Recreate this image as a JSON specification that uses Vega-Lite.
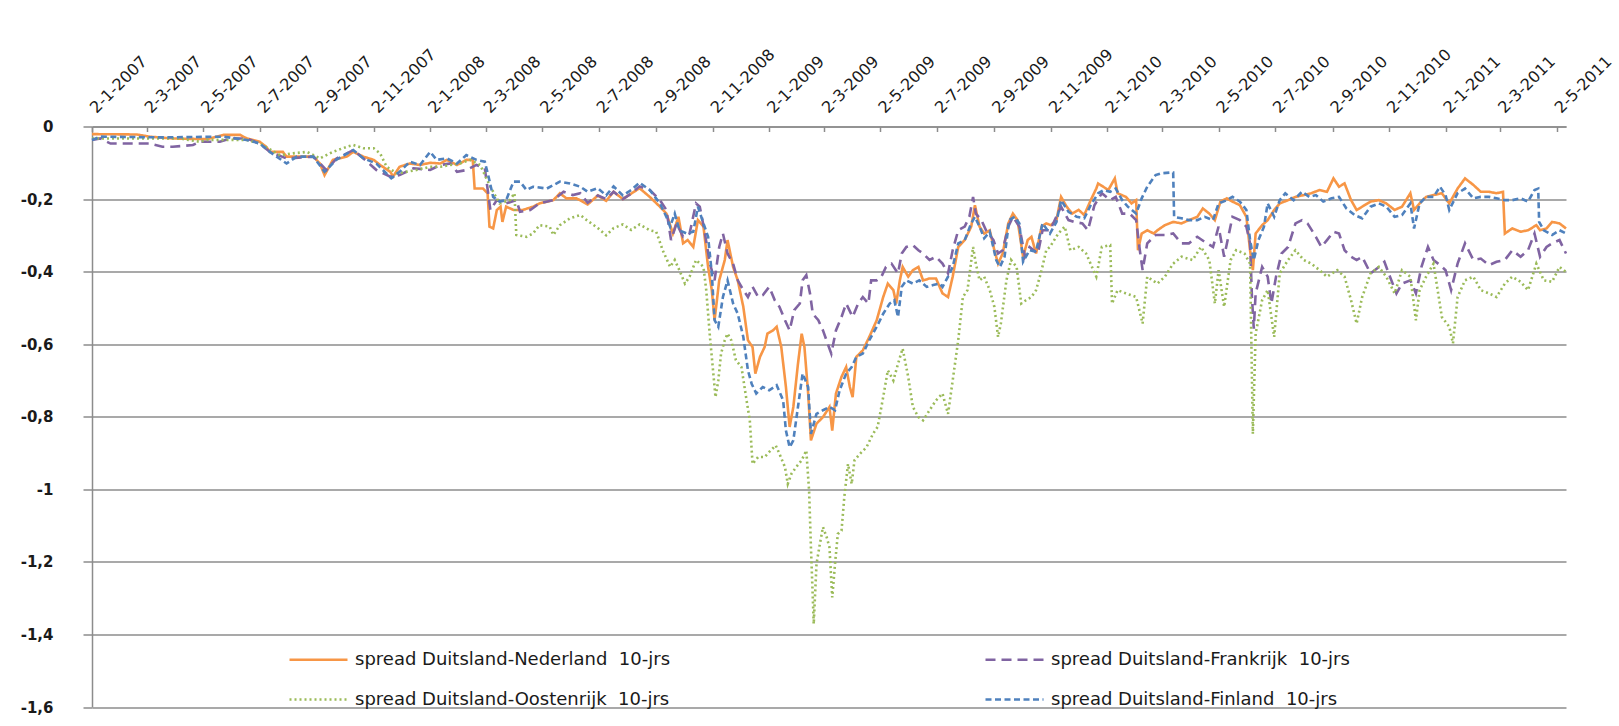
{
  "$schema": "https://vega.github.io/schema/vega-lite/v6.json",
  "width": 1474,
  "height": 580.5,
  "autosize": "none",
  "padding": {"left": 92, "top": 126.5, "right": 53, "bottom": 19},
  "background": "white",
  "config": {
    "view": {"stroke": null},
    "locale": {"number": {"decimal": ",", "thousands": ".", "grouping": [3], "currency": ["€", ""], "minus": "-"}}
  },
  "data": {"values": [
    {"s":"NL","d":"2007-01-02","v":-0.021},{"s":"NL","d":"2007-02-19","v":-0.022},{"s":"NL","d":"2007-03-05","v":-0.028},{"s":"NL","d":"2007-03-30","v":-0.033},{"s":"NL","d":"2007-05-06","v":-0.035},{"s":"NL","d":"2007-05-24","v":-0.023},{"s":"NL","d":"2007-06-11","v":-0.023},{"s":"NL","d":"2007-06-18","v":-0.033},{"s":"NL","d":"2007-07-02","v":-0.042},{"s":"NL","d":"2007-07-09","v":-0.056},{"s":"NL","d":"2007-07-13","v":-0.07},{"s":"NL","d":"2007-07-27","v":-0.07},{"s":"NL","d":"2007-07-31","v":-0.083},{"s":"NL","d":"2007-08-11","v":-0.083},{"s":"NL","d":"2007-08-29","v":-0.083},{"s":"NL","d":"2007-09-05","v":-0.102},{"s":"NL","d":"2007-09-10","v":-0.134},{"s":"NL","d":"2007-09-19","v":-0.092},{"s":"NL","d":"2007-10-04","v":-0.083},{"s":"NL","d":"2007-10-11","v":-0.07},{"s":"NL","d":"2007-10-22","v":-0.083},{"s":"NL","d":"2007-11-02","v":-0.092},{"s":"NL","d":"2007-11-09","v":-0.106},{"s":"NL","d":"2007-11-20","v":-0.125},{"s":"NL","d":"2007-11-23","v":-0.138},{"s":"NL","d":"2007-11-30","v":-0.111},{"s":"NL","d":"2007-12-11","v":-0.102},{"s":"NL","d":"2007-12-22","v":-0.106},{"s":"NL","d":"2008-01-02","v":-0.1},{"s":"NL","d":"2008-01-13","v":-0.102},{"s":"NL","d":"2008-01-20","v":-0.092},{"s":"NL","d":"2008-01-31","v":-0.106},{"s":"NL","d":"2008-02-10","v":-0.092},{"s":"NL","d":"2008-02-17","v":-0.092},{"s":"NL","d":"2008-02-19","v":-0.171},{"s":"NL","d":"2008-02-28","v":-0.171},{"s":"NL","d":"2008-03-04","v":-0.184},{"s":"NL","d":"2008-03-06","v":-0.276},{"s":"NL","d":"2008-03-10","v":-0.281},{"s":"NL","d":"2008-03-14","v":-0.23},{"s":"NL","d":"2008-03-18","v":-0.221},{"s":"NL","d":"2008-03-20","v":-0.263},{"s":"NL","d":"2008-03-24","v":-0.221},{"s":"NL","d":"2008-04-01","v":-0.23},{"s":"NL","d":"2008-04-11","v":-0.23},{"s":"NL","d":"2008-04-22","v":-0.221},{"s":"NL","d":"2008-04-29","v":-0.212},{"s":"NL","d":"2008-05-14","v":-0.203},{"s":"NL","d":"2008-05-21","v":-0.184},{"s":"NL","d":"2008-05-28","v":-0.198},{"s":"NL","d":"2008-06-08","v":-0.198},{"s":"NL","d":"2008-06-20","v":-0.215},{"s":"NL","d":"2008-07-01","v":-0.19},{"s":"NL","d":"2008-07-10","v":-0.205},{"s":"NL","d":"2008-07-18","v":-0.18},{"s":"NL","d":"2008-07-28","v":-0.2},{"s":"NL","d":"2008-08-06","v":-0.185},{"s":"NL","d":"2008-08-15","v":-0.17},
    {"s":"NL","d":"2008-08-26","v":-0.194},{"s":"NL","d":"2008-09-06","v":-0.221},{"s":"NL","d":"2008-09-13","v":-0.24},{"s":"NL","d":"2008-09-20","v":-0.295},{"s":"NL","d":"2008-09-26","v":-0.249},{"s":"NL","d":"2008-10-01","v":-0.322},{"s":"NL","d":"2008-10-06","v":-0.313},{"s":"NL","d":"2008-10-12","v":-0.332},{"s":"NL","d":"2008-10-17","v":-0.258},{"s":"NL","d":"2008-10-23","v":-0.276},{"s":"NL","d":"2008-10-28","v":-0.387},{"s":"NL","d":"2008-11-01","v":-0.451},{"s":"NL","d":"2008-11-04","v":-0.534},{"s":"NL","d":"2008-11-09","v":-0.424},{"s":"NL","d":"2008-11-15","v":-0.368},{"s":"NL","d":"2008-11-18","v":-0.313},{"s":"NL","d":"2008-11-24","v":-0.387},{"s":"NL","d":"2008-11-29","v":-0.424},{"s":"NL","d":"2008-12-05","v":-0.497},{"s":"NL","d":"2008-12-10","v":-0.589},{"s":"NL","d":"2008-12-15","v":-0.608},{"s":"NL","d":"2008-12-18","v":-0.681},{"s":"NL","d":"2008-12-23","v":-0.635},{"s":"NL","d":"2008-12-28","v":-0.608},{"s":"NL","d":"2008-12-31","v":-0.571},{"s":"NL","d":"2009-01-06","v":-0.562},{"s":"NL","d":"2009-01-10","v":-0.552},{"s":"NL","d":"2009-01-15","v":-0.608},{"s":"NL","d":"2009-01-20","v":-0.718},{"s":"NL","d":"2009-01-24","v":-0.828},{"s":"NL","d":"2009-01-28","v":-0.773},{"s":"NL","d":"2009-02-02","v":-0.654},{"s":"NL","d":"2009-02-06","v":-0.571},{"s":"NL","d":"2009-02-09","v":-0.608},{"s":"NL","d":"2009-02-13","v":-0.736},{"s":"NL","d":"2009-02-16","v":-0.865},{"s":"NL","d":"2009-02-22","v":-0.819},{"s":"NL","d":"2009-03-01","v":-0.801},{"s":"NL","d":"2009-03-08","v":-0.773},{"s":"NL","d":"2009-03-11","v":-0.838},{"s":"NL","d":"2009-03-15","v":-0.736},{"s":"NL","d":"2009-03-21","v":-0.69},{"s":"NL","d":"2009-03-26","v":-0.663},{"s":"NL","d":"2009-03-30","v":-0.718},{"s":"NL","d":"2009-04-02","v":-0.746},{"s":"NL","d":"2009-04-06","v":-0.635},{"s":"NL","d":"2009-04-13","v":-0.617},{"s":"NL","d":"2009-04-20","v":-0.58},{"s":"NL","d":"2009-04-28","v":-0.534},{"s":"NL","d":"2009-05-05","v":-0.47},{"s":"NL","d":"2009-05-10","v":-0.433},{"s":"NL","d":"2009-05-16","v":-0.451},{"s":"NL","d":"2009-05-19","v":-0.488},{"s":"NL","d":"2009-05-23","v":-0.424},{"s":"NL","d":"2009-05-26","v":-0.387},{"s":"NL","d":"2009-06-01","v":-0.414},{"s":"NL","d":"2009-06-06","v":-0.396},{"s":"NL","d":"2009-06-12","v":-0.387},{"s":"NL","d":"2009-06-17","v":-0.424},{"s":"NL","d":"2009-06-24","v":-0.419},{"s":"NL","d":"2009-07-01","v":-0.419},{"s":"NL","d":"2009-07-08","v":-0.46},{"s":"NL","d":"2009-07-14","v":-0.47},{"s":"NL","d":"2009-07-19","v":-0.414},{"s":"NL","d":"2009-07-25","v":-0.332},{"s":"NL","d":"2009-08-01","v":-0.313},{"s":"NL","d":"2009-08-08","v":-0.276},{"s":"NL","d":"2009-08-12","v":-0.217},{"s":"NL","d":"2009-08-17","v":-0.276},{"s":"NL","d":"2009-08-22","v":-0.295},{"s":"NL","d":"2009-08-28","v":-0.286},{"s":"NL","d":"2009-09-02","v":-0.341},{"s":"NL","d":"2009-09-06","v":-0.378},{"s":"NL","d":"2009-09-11","v":-0.35},{"s":"NL","d":"2009-09-17","v":-0.267},{"s":"NL","d":"2009-09-22","v":-0.24},{"s":"NL","d":"2009-09-27","v":-0.258},{"s":"NL","d":"2009-10-03","v":-0.359},{"s":"NL","d":"2009-10-08","v":-0.313},{"s":"NL","d":"2009-10-12","v":-0.304},{"s":"NL","d":"2009-10-17","v":-0.35},{"s":"NL","d":"2009-10-23","v":-0.276},{"s":"NL","d":"2009-10-28","v":-0.267},{"s":"NL","d":"2009-11-02","v":-0.272},
    {"s":"NL","d":"2009-11-08","v":-0.258},{"s":"NL","d":"2009-11-13","v":-0.194},{"s":"NL","d":"2009-11-19","v":-0.221},{"s":"NL","d":"2009-11-25","v":-0.24},{"s":"NL","d":"2009-12-02","v":-0.23},{"s":"NL","d":"2009-12-08","v":-0.244},{"s":"NL","d":"2009-12-15","v":-0.203},{"s":"NL","d":"2009-12-21","v":-0.171},{"s":"NL","d":"2009-12-23","v":-0.157},{"s":"NL","d":"2010-01-03","v":-0.175},{"s":"NL","d":"2010-01-10","v":-0.143},{"s":"NL","d":"2010-01-13","v":-0.184},{"s":"NL","d":"2010-01-22","v":-0.194},{"s":"NL","d":"2010-01-28","v":-0.212},{"s":"NL","d":"2010-02-02","v":-0.203},{"s":"NL","d":"2010-02-04","v":-0.341},{"s":"NL","d":"2010-02-08","v":-0.295},{"s":"NL","d":"2010-02-14","v":-0.286},{"s":"NL","d":"2010-02-21","v":-0.295},{"s":"NL","d":"2010-02-25","v":-0.286},{"s":"NL","d":"2010-03-05","v":-0.272},{"s":"NL","d":"2010-03-14","v":-0.263},{"s":"NL","d":"2010-03-23","v":-0.267},{"s":"NL","d":"2010-03-31","v":-0.258},{"s":"NL","d":"2010-04-09","v":-0.249},{"s":"NL","d":"2010-04-15","v":-0.226},{"s":"NL","d":"2010-04-22","v":-0.24},{"s":"NL","d":"2010-04-28","v":-0.258},{"s":"NL","d":"2010-05-04","v":-0.207},{"s":"NL","d":"2010-05-11","v":-0.198},{"s":"NL","d":"2010-05-17","v":-0.207},{"s":"NL","d":"2010-05-25","v":-0.217},{"s":"NL","d":"2010-06-01","v":-0.249},{"s":"NL","d":"2010-06-05","v":-0.341},{"s":"NL","d":"2010-06-08","v":-0.396},{"s":"NL","d":"2010-06-11","v":-0.295},{"s":"NL","d":"2010-06-18","v":-0.272},{"s":"NL","d":"2010-06-24","v":-0.258},{"s":"NL","d":"2010-07-01","v":-0.23},{"s":"NL","d":"2010-07-07","v":-0.212},{"s":"NL","d":"2010-07-16","v":-0.203},{"s":"NL","d":"2010-07-24","v":-0.194},{"s":"NL","d":"2010-08-02","v":-0.189},{"s":"NL","d":"2010-08-10","v":-0.184},{"s":"NL","d":"2010-08-19","v":-0.175},{"s":"NL","d":"2010-08-27","v":-0.18},{"s":"NL","d":"2010-09-03","v":-0.143},{"s":"NL","d":"2010-09-09","v":-0.166},{"s":"NL","d":"2010-09-15","v":-0.157},{"s":"NL","d":"2010-09-22","v":-0.203},{"s":"NL","d":"2010-09-28","v":-0.23},{"s":"NL","d":"2010-10-04","v":-0.221},{"s":"NL","d":"2010-10-13","v":-0.207},{"s":"NL","d":"2010-10-22","v":-0.203},{"s":"NL","d":"2010-10-30","v":-0.212},{"s":"NL","d":"2010-11-08","v":-0.23},{"s":"NL","d":"2010-11-16","v":-0.221},{"s":"NL","d":"2010-11-25","v":-0.184},{"s":"NL","d":"2010-11-29","v":-0.23},{"s":"NL","d":"2010-12-05","v":-0.212},{"s":"NL","d":"2010-12-12","v":-0.194},{"s":"NL","d":"2010-12-20","v":-0.189},{"s":"NL","d":"2010-12-29","v":-0.184},{"s":"NL","d":"2011-01-06","v":-0.212},{"s":"NL","d":"2011-01-15","v":-0.171},{"s":"NL","d":"2011-01-23","v":-0.143},{"s":"NL","d":"2011-02-01","v":-0.161},{"s":"NL","d":"2011-02-09","v":-0.18},{"s":"NL","d":"2011-02-18","v":-0.18},{"s":"NL","d":"2011-02-26","v":-0.184},{"s":"NL","d":"2011-03-05","v":-0.18},{"s":"NL","d":"2011-03-07","v":-0.295},{"s":"NL","d":"2011-03-15","v":-0.281},{"s":"NL","d":"2011-03-24","v":-0.29},{"s":"NL","d":"2011-04-01","v":-0.286},{"s":"NL","d":"2011-04-10","v":-0.272},{"s":"NL","d":"2011-04-14","v":-0.286},{"s":"NL","d":"2011-04-21","v":-0.281},{"s":"NL","d":"2011-04-27","v":-0.263},{"s":"NL","d":"2011-05-05","v":-0.267},{"s":"NL","d":"2011-05-12","v":-0.281},

    {"s":"FR","d":"2007-01-02","v":-0.037},{"s":"FR","d":"2007-01-11","v":-0.033},{"s":"FR","d":"2007-01-22","v":-0.047},{"s":"FR","d":"2007-02-12","v":-0.047},{"s":"FR","d":"2007-03-05","v":-0.047},{"s":"FR","d":"2007-03-19","v":-0.056},{"s":"FR","d":"2007-03-30","v":-0.056},{"s":"FR","d":"2007-04-21","v":-0.051},{"s":"FR","d":"2007-04-28","v":-0.042},{"s":"FR","d":"2007-05-20","v":-0.042},{"s":"FR","d":"2007-05-31","v":-0.033},{"s":"FR","d":"2007-06-18","v":-0.033},{"s":"FR","d":"2007-07-02","v":-0.047},{"s":"FR","d":"2007-07-13","v":-0.07},{"s":"FR","d":"2007-07-31","v":-0.088},{"s":"FR","d":"2007-08-29","v":-0.083},{"s":"FR","d":"2007-09-12","v":-0.12},{"s":"FR","d":"2007-09-23","v":-0.088},{"s":"FR","d":"2007-10-11","v":-0.065},{"s":"FR","d":"2007-10-22","v":-0.088},{"s":"FR","d":"2007-11-05","v":-0.12},{"s":"FR","d":"2007-11-20","v":-0.138},{"s":"FR","d":"2007-11-30","v":-0.134},{"s":"FR","d":"2007-12-15","v":-0.115},{"s":"FR","d":"2008-01-02","v":-0.12},{"s":"FR","d":"2008-01-13","v":-0.106},{"s":"FR","d":"2008-01-24","v":-0.102},{"s":"FR","d":"2008-01-31","v":-0.125},{"s":"FR","d":"2008-02-10","v":-0.12},{"s":"FR","d":"2008-02-21","v":-0.106},{"s":"FR","d":"2008-03-01","v":-0.115},{"s":"FR","d":"2008-03-07","v":-0.23},{"s":"FR","d":"2008-03-14","v":-0.203},{"s":"FR","d":"2008-03-24","v":-0.212},{"s":"FR","d":"2008-04-04","v":-0.203},{"s":"FR","d":"2008-04-08","v":-0.235},{"s":"FR","d":"2008-04-19","v":-0.23},{"s":"FR","d":"2008-04-29","v":-0.212},{"s":"FR","d":"2008-05-14","v":-0.203},{"s":"FR","d":"2008-05-25","v":-0.18},{"s":"FR","d":"2008-06-04","v":-0.189},{"s":"FR","d":"2008-06-12","v":-0.184},{"s":"FR","d":"2008-06-20","v":-0.21},{"s":"FR","d":"2008-07-01","v":-0.19},{"s":"FR","d":"2008-07-10","v":-0.2},{"s":"FR","d":"2008-07-18","v":-0.18},{"s":"FR","d":"2008-07-28","v":-0.2},{"s":"FR","d":"2008-08-06","v":-0.185},{"s":"FR","d":"2008-08-15","v":-0.165},
    {"s":"FR","d":"2008-08-26","v":-0.175},{"s":"FR","d":"2008-09-06","v":-0.203},{"s":"FR","d":"2008-09-13","v":-0.23},{"s":"FR","d":"2008-09-18","v":-0.313},{"s":"FR","d":"2008-09-24","v":-0.267},{"s":"FR","d":"2008-10-01","v":-0.304},{"s":"FR","d":"2008-10-08","v":-0.295},{"s":"FR","d":"2008-10-15","v":-0.212},{"s":"FR","d":"2008-10-19","v":-0.221},{"s":"FR","d":"2008-10-24","v":-0.286},{"s":"FR","d":"2008-10-30","v":-0.378},{"s":"FR","d":"2008-11-04","v":-0.424},{"s":"FR","d":"2008-11-09","v":-0.332},{"s":"FR","d":"2008-11-13","v":-0.295},{"s":"FR","d":"2008-11-18","v":-0.35},{"s":"FR","d":"2008-11-24","v":-0.378},{"s":"FR","d":"2008-11-29","v":-0.424},{"s":"FR","d":"2008-12-05","v":-0.451},{"s":"FR","d":"2008-12-10","v":-0.47},{"s":"FR","d":"2008-12-15","v":-0.442},{"s":"FR","d":"2008-12-21","v":-0.47},{"s":"FR","d":"2008-12-26","v":-0.465},{"s":"FR","d":"2009-01-02","v":-0.442},{"s":"FR","d":"2009-01-08","v":-0.479},{"s":"FR","d":"2009-01-13","v":-0.497},{"s":"FR","d":"2009-01-19","v":-0.534},{"s":"FR","d":"2009-01-24","v":-0.562},{"s":"FR","d":"2009-01-29","v":-0.506},{"s":"FR","d":"2009-02-04","v":-0.488},{"s":"FR","d":"2009-02-07","v":-0.424},{"s":"FR","d":"2009-02-11","v":-0.41},{"s":"FR","d":"2009-02-15","v":-0.46},{"s":"FR","d":"2009-02-18","v":-0.516},{"s":"FR","d":"2009-02-24","v":-0.534},{"s":"FR","d":"2009-03-01","v":-0.562},{"s":"FR","d":"2009-03-06","v":-0.598},{"s":"FR","d":"2009-03-10","v":-0.626},{"s":"FR","d":"2009-03-15","v":-0.562},{"s":"FR","d":"2009-03-21","v":-0.525},{"s":"FR","d":"2009-03-26","v":-0.488},{"s":"FR","d":"2009-04-02","v":-0.525},{"s":"FR","d":"2009-04-08","v":-0.488},{"s":"FR","d":"2009-04-13","v":-0.47},{"s":"FR","d":"2009-04-19","v":-0.488},{"s":"FR","d":"2009-04-22","v":-0.424},{"s":"FR","d":"2009-04-28","v":-0.424},{"s":"FR","d":"2009-05-03","v":-0.414},{"s":"FR","d":"2009-05-08","v":-0.387},{"s":"FR","d":"2009-05-14","v":-0.378},{"s":"FR","d":"2009-05-21","v":-0.405},{"s":"FR","d":"2009-05-25","v":-0.35},{"s":"FR","d":"2009-05-30","v":-0.332},{"s":"FR","d":"2009-06-06","v":-0.327},{"s":"FR","d":"2009-06-12","v":-0.341},{"s":"FR","d":"2009-06-17","v":-0.35},{"s":"FR","d":"2009-06-24","v":-0.368},{"s":"FR","d":"2009-07-01","v":-0.359},{"s":"FR","d":"2009-07-08","v":-0.378},{"s":"FR","d":"2009-07-14","v":-0.405},{"s":"FR","d":"2009-07-19","v":-0.341},{"s":"FR","d":"2009-07-25","v":-0.286},{"s":"FR","d":"2009-08-01","v":-0.276},{"s":"FR","d":"2009-08-06","v":-0.249},{"s":"FR","d":"2009-08-10","v":-0.194},{"s":"FR","d":"2009-08-13","v":-0.24},{"s":"FR","d":"2009-08-19","v":-0.258},{"s":"FR","d":"2009-08-24","v":-0.286},{"s":"FR","d":"2009-09-01","v":-0.313},{"s":"FR","d":"2009-09-06","v":-0.35},{"s":"FR","d":"2009-09-11","v":-0.341},{"s":"FR","d":"2009-09-17","v":-0.276},{"s":"FR","d":"2009-09-22","v":-0.249},{"s":"FR","d":"2009-09-29","v":-0.276},{"s":"FR","d":"2009-10-05","v":-0.359},{"s":"FR","d":"2009-10-10","v":-0.332},{"s":"FR","d":"2009-10-19","v":-0.35},{"s":"FR","d":"2009-10-24","v":-0.286},{"s":"FR","d":"2009-11-01","v":-0.286},
    {"s":"FR","d":"2009-11-13","v":-0.221},{"s":"FR","d":"2009-11-21","v":-0.258},{"s":"FR","d":"2009-11-27","v":-0.263},{"s":"FR","d":"2009-12-06","v":-0.267},{"s":"FR","d":"2009-12-12","v":-0.286},{"s":"FR","d":"2009-12-19","v":-0.217},{"s":"FR","d":"2009-12-27","v":-0.184},{"s":"FR","d":"2010-01-05","v":-0.203},{"s":"FR","d":"2010-01-11","v":-0.194},{"s":"FR","d":"2010-01-18","v":-0.24},{"s":"FR","d":"2010-01-26","v":-0.24},{"s":"FR","d":"2010-02-02","v":-0.258},{"s":"FR","d":"2010-02-06","v":-0.341},{"s":"FR","d":"2010-02-09","v":-0.396},{"s":"FR","d":"2010-02-14","v":-0.322},{"s":"FR","d":"2010-02-23","v":-0.299},{"s":"FR","d":"2010-03-05","v":-0.299},{"s":"FR","d":"2010-03-14","v":-0.295},{"s":"FR","d":"2010-03-23","v":-0.322},{"s":"FR","d":"2010-03-31","v":-0.322},{"s":"FR","d":"2010-04-09","v":-0.304},{"s":"FR","d":"2010-04-17","v":-0.318},{"s":"FR","d":"2010-04-26","v":-0.332},{"s":"FR","d":"2010-05-02","v":-0.276},{"s":"FR","d":"2010-05-08","v":-0.359},{"s":"FR","d":"2010-05-17","v":-0.249},{"s":"FR","d":"2010-05-25","v":-0.258},{"s":"FR","d":"2010-06-01","v":-0.276},{"s":"FR","d":"2010-06-05","v":-0.322},{"s":"FR","d":"2010-06-07","v":-0.47},{"s":"FR","d":"2010-06-09","v":-0.557},{"s":"FR","d":"2010-06-11","v":-0.46},{"s":"FR","d":"2010-06-18","v":-0.387},{"s":"FR","d":"2010-06-24","v":-0.414},{"s":"FR","d":"2010-06-28","v":-0.488},{"s":"FR","d":"2010-07-03","v":-0.414},{"s":"FR","d":"2010-07-09","v":-0.35},{"s":"FR","d":"2010-07-16","v":-0.332},{"s":"FR","d":"2010-07-24","v":-0.267},{"s":"FR","d":"2010-07-31","v":-0.258},{"s":"FR","d":"2010-08-06","v":-0.267},{"s":"FR","d":"2010-08-15","v":-0.304},{"s":"FR","d":"2010-08-21","v":-0.332},{"s":"FR","d":"2010-08-27","v":-0.313},{"s":"FR","d":"2010-09-03","v":-0.29},{"s":"FR","d":"2010-09-09","v":-0.295},{"s":"FR","d":"2010-09-15","v":-0.341},{"s":"FR","d":"2010-09-22","v":-0.359},{"s":"FR","d":"2010-09-28","v":-0.368},{"s":"FR","d":"2010-10-04","v":-0.359},{"s":"FR","d":"2010-10-13","v":-0.405},{"s":"FR","d":"2010-10-22","v":-0.387},{"s":"FR","d":"2010-10-28","v":-0.373},{"s":"FR","d":"2010-11-03","v":-0.414},{"s":"FR","d":"2010-11-10","v":-0.46},{"s":"FR","d":"2010-11-16","v":-0.433},{"s":"FR","d":"2010-11-25","v":-0.424},{"s":"FR","d":"2010-12-01","v":-0.46},{"s":"FR","d":"2010-12-07","v":-0.387},{"s":"FR","d":"2010-12-14","v":-0.332},{"s":"FR","d":"2010-12-20","v":-0.368},{"s":"FR","d":"2010-12-27","v":-0.382},{"s":"FR","d":"2011-01-02","v":-0.396},{"s":"FR","d":"2011-01-08","v":-0.451},{"s":"FR","d":"2011-01-15","v":-0.378},{"s":"FR","d":"2011-01-23","v":-0.322},{"s":"FR","d":"2011-02-01","v":-0.368},{"s":"FR","d":"2011-02-09","v":-0.364},{"s":"FR","d":"2011-02-18","v":-0.382},{"s":"FR","d":"2011-02-26","v":-0.373},{"s":"FR","d":"2011-03-07","v":-0.368},{"s":"FR","d":"2011-03-15","v":-0.341},{"s":"FR","d":"2011-03-24","v":-0.359},{"s":"FR","d":"2011-04-01","v":-0.341},{"s":"FR","d":"2011-04-08","v":-0.295},{"s":"FR","d":"2011-04-14","v":-0.359},{"s":"FR","d":"2011-04-21","v":-0.332},{"s":"FR","d":"2011-04-27","v":-0.322},{"s":"FR","d":"2011-05-05","v":-0.313},{"s":"FR","d":"2011-05-12","v":-0.35},

    {"s":"AT","d":"2007-01-02","v":-0.033},{"s":"AT","d":"2007-04-07","v":-0.033},{"s":"AT","d":"2007-04-28","v":-0.042},{"s":"AT","d":"2007-05-06","v":-0.037},{"s":"AT","d":"2007-06-18","v":-0.037},{"s":"AT","d":"2007-07-02","v":-0.047},{"s":"AT","d":"2007-07-24","v":-0.079},{"s":"AT","d":"2007-08-07","v":-0.074},{"s":"AT","d":"2007-08-22","v":-0.07},{"s":"AT","d":"2007-09-05","v":-0.088},{"s":"AT","d":"2007-09-19","v":-0.07},{"s":"AT","d":"2007-10-04","v":-0.056},{"s":"AT","d":"2007-10-11","v":-0.051},{"s":"AT","d":"2007-10-22","v":-0.06},{"s":"AT","d":"2007-11-02","v":-0.06},{"s":"AT","d":"2007-11-09","v":-0.074},{"s":"AT","d":"2007-11-16","v":-0.111},{"s":"AT","d":"2007-11-27","v":-0.129},{"s":"AT","d":"2007-12-07","v":-0.125},{"s":"AT","d":"2007-12-18","v":-0.12},{"s":"AT","d":"2008-01-02","v":-0.111},{"s":"AT","d":"2008-01-13","v":-0.111},{"s":"AT","d":"2008-01-24","v":-0.106},{"s":"AT","d":"2008-02-03","v":-0.102},{"s":"AT","d":"2008-02-14","v":-0.092},{"s":"AT","d":"2008-02-25","v":-0.106},{"s":"AT","d":"2008-03-07","v":-0.166},{"s":"AT","d":"2008-03-17","v":-0.212},{"s":"AT","d":"2008-03-28","v":-0.203},{"s":"AT","d":"2008-04-02","v":-0.184},{"s":"AT","d":"2008-04-04","v":-0.299},{"s":"AT","d":"2008-04-15","v":-0.304},{"s":"AT","d":"2008-04-22","v":-0.295},{"s":"AT","d":"2008-04-29","v":-0.272},{"s":"AT","d":"2008-05-10","v":-0.276},{"s":"AT","d":"2008-05-14","v":-0.299},{"s":"AT","d":"2008-05-21","v":-0.272},{"s":"AT","d":"2008-06-01","v":-0.253},{"s":"AT","d":"2008-06-12","v":-0.244},{"s":"AT","d":"2008-06-20","v":-0.26},{"s":"AT","d":"2008-07-01","v":-0.28},{"s":"AT","d":"2008-07-10","v":-0.3},{"s":"AT","d":"2008-07-18","v":-0.28},{"s":"AT","d":"2008-07-28","v":-0.27},{"s":"AT","d":"2008-08-06","v":-0.285},{"s":"AT","d":"2008-08-15","v":-0.27},
    {"s":"AT","d":"2008-08-26","v":-0.286},{"s":"AT","d":"2008-09-02","v":-0.29},{"s":"AT","d":"2008-09-09","v":-0.341},{"s":"AT","d":"2008-09-17","v":-0.387},{"s":"AT","d":"2008-09-22","v":-0.368},{"s":"AT","d":"2008-09-27","v":-0.396},{"s":"AT","d":"2008-10-03","v":-0.433},{"s":"AT","d":"2008-10-08","v":-0.414},{"s":"AT","d":"2008-10-15","v":-0.368},{"s":"AT","d":"2008-10-23","v":-0.387},{"s":"AT","d":"2008-10-26","v":-0.451},{"s":"AT","d":"2008-10-30","v":-0.58},{"s":"AT","d":"2008-11-02","v":-0.663},{"s":"AT","d":"2008-11-05","v":-0.746},{"s":"AT","d":"2008-11-08","v":-0.7},{"s":"AT","d":"2008-11-11","v":-0.626},{"s":"AT","d":"2008-11-15","v":-0.589},{"s":"AT","d":"2008-11-18","v":-0.571},{"s":"AT","d":"2008-11-22","v":-0.589},{"s":"AT","d":"2008-11-27","v":-0.644},{"s":"AT","d":"2008-12-03","v":-0.663},{"s":"AT","d":"2008-12-08","v":-0.746},{"s":"AT","d":"2008-12-12","v":-0.81},{"s":"AT","d":"2008-12-15","v":-0.93},{"s":"AT","d":"2008-12-21","v":-0.911},{"s":"AT","d":"2008-12-28","v":-0.911},{"s":"AT","d":"2009-01-02","v":-0.897},{"s":"AT","d":"2009-01-09","v":-0.879},{"s":"AT","d":"2009-01-13","v":-0.902},{"s":"AT","d":"2009-01-19","v":-0.939},{"s":"AT","d":"2009-01-22","v":-0.985},{"s":"AT","d":"2009-01-26","v":-0.957},{"s":"AT","d":"2009-01-31","v":-0.939},{"s":"AT","d":"2009-02-06","v":-0.92},{"s":"AT","d":"2009-02-11","v":-0.893},{"s":"AT","d":"2009-02-14","v":-1.003},{"s":"AT","d":"2009-02-16","v":-1.16},{"s":"AT","d":"2009-02-18","v":-1.298},{"s":"AT","d":"2009-02-19","v":-1.371},{"s":"AT","d":"2009-02-22","v":-1.206},{"s":"AT","d":"2009-02-25","v":-1.16},{"s":"AT","d":"2009-03-01","v":-1.104},{"s":"AT","d":"2009-03-05","v":-1.132},{"s":"AT","d":"2009-03-08","v":-1.16},{"s":"AT","d":"2009-03-11","v":-1.298},{"s":"AT","d":"2009-03-14","v":-1.206},{"s":"AT","d":"2009-03-17","v":-1.123},{"s":"AT","d":"2009-03-21","v":-1.114},{"s":"AT","d":"2009-03-24","v":-1.022},{"s":"AT","d":"2009-03-28","v":-0.93},{"s":"AT","d":"2009-04-01","v":-0.985},{"s":"AT","d":"2009-04-04","v":-0.92},{"s":"AT","d":"2009-04-10","v":-0.902},{"s":"AT","d":"2009-04-17","v":-0.884},{"s":"AT","d":"2009-04-24","v":-0.847},{"s":"AT","d":"2009-04-29","v":-0.828},{"s":"AT","d":"2009-05-05","v":-0.746},{"s":"AT","d":"2009-05-10","v":-0.672},{"s":"AT","d":"2009-05-16","v":-0.7},{"s":"AT","d":"2009-05-21","v":-0.654},{"s":"AT","d":"2009-05-26","v":-0.612},{"s":"AT","d":"2009-06-01","v":-0.69},{"s":"AT","d":"2009-06-06","v":-0.773},{"s":"AT","d":"2009-06-12","v":-0.801},{"s":"AT","d":"2009-06-17","v":-0.81},{"s":"AT","d":"2009-06-24","v":-0.782},{"s":"AT","d":"2009-07-01","v":-0.755},{"s":"AT","d":"2009-07-08","v":-0.736},{"s":"AT","d":"2009-07-14","v":-0.792},{"s":"AT","d":"2009-07-19","v":-0.7},{"s":"AT","d":"2009-07-25","v":-0.589},{"s":"AT","d":"2009-07-30","v":-0.47},{"s":"AT","d":"2009-08-04","v":-0.451},{"s":"AT","d":"2009-08-10","v":-0.332},{"s":"AT","d":"2009-08-13","v":-0.378},{"s":"AT","d":"2009-08-17","v":-0.424},{"s":"AT","d":"2009-08-22","v":-0.414},{"s":"AT","d":"2009-08-28","v":-0.451},{"s":"AT","d":"2009-09-02","v":-0.497},{"s":"AT","d":"2009-09-06","v":-0.58},{"s":"AT","d":"2009-09-09","v":-0.543},{"s":"AT","d":"2009-09-15","v":-0.424},{"s":"AT","d":"2009-09-20","v":-0.368},{"s":"AT","d":"2009-09-26","v":-0.387},{"s":"AT","d":"2009-10-01","v":-0.488},{"s":"AT","d":"2009-10-06","v":-0.479},{"s":"AT","d":"2009-10-12","v":-0.47},{"s":"AT","d":"2009-10-17","v":-0.451},{"s":"AT","d":"2009-10-23","v":-0.396},{"s":"AT","d":"2009-10-28","v":-0.341},{"s":"AT","d":"2009-11-01","v":-0.332},
    {"s":"AT","d":"2009-11-10","v":-0.295},{"s":"AT","d":"2009-11-17","v":-0.276},{"s":"AT","d":"2009-11-23","v":-0.341},{"s":"AT","d":"2009-12-02","v":-0.332},{"s":"AT","d":"2009-12-10","v":-0.35},{"s":"AT","d":"2009-12-21","v":-0.414},{"s":"AT","d":"2009-12-27","v":-0.332},{"s":"AT","d":"2010-01-05","v":-0.327},{"s":"AT","d":"2010-01-07","v":-0.488},{"s":"AT","d":"2010-01-13","v":-0.451},{"s":"AT","d":"2010-01-22","v":-0.46},{"s":"AT","d":"2010-02-02","v":-0.47},{"s":"AT","d":"2010-02-09","v":-0.543},{"s":"AT","d":"2010-02-14","v":-0.414},{"s":"AT","d":"2010-02-25","v":-0.433},{"s":"AT","d":"2010-03-05","v":-0.414},{"s":"AT","d":"2010-03-14","v":-0.378},{"s":"AT","d":"2010-03-23","v":-0.359},{"s":"AT","d":"2010-04-04","v":-0.368},{"s":"AT","d":"2010-04-13","v":-0.332},{"s":"AT","d":"2010-04-22","v":-0.368},{"s":"AT","d":"2010-04-28","v":-0.488},{"s":"AT","d":"2010-05-02","v":-0.396},{"s":"AT","d":"2010-05-08","v":-0.497},{"s":"AT","d":"2010-05-15","v":-0.368},{"s":"AT","d":"2010-05-21","v":-0.341},{"s":"AT","d":"2010-05-30","v":-0.35},{"s":"AT","d":"2010-06-05","v":-0.378},{"s":"AT","d":"2010-06-08","v":-0.847},{"s":"AT","d":"2010-06-11","v":-0.571},{"s":"AT","d":"2010-06-18","v":-0.479},{"s":"AT","d":"2010-06-24","v":-0.451},{"s":"AT","d":"2010-07-01","v":-0.58},{"s":"AT","d":"2010-07-07","v":-0.405},{"s":"AT","d":"2010-07-16","v":-0.368},{"s":"AT","d":"2010-07-24","v":-0.341},{"s":"AT","d":"2010-08-02","v":-0.368},{"s":"AT","d":"2010-08-10","v":-0.378},{"s":"AT","d":"2010-08-19","v":-0.396},{"s":"AT","d":"2010-08-27","v":-0.414},{"s":"AT","d":"2010-09-07","v":-0.396},{"s":"AT","d":"2010-09-15","v":-0.414},{"s":"AT","d":"2010-09-22","v":-0.479},{"s":"AT","d":"2010-09-28","v":-0.543},{"s":"AT","d":"2010-10-04","v":-0.47},{"s":"AT","d":"2010-10-13","v":-0.405},{"s":"AT","d":"2010-10-22","v":-0.387},{"s":"AT","d":"2010-10-30","v":-0.414},{"s":"AT","d":"2010-11-08","v":-0.46},{"s":"AT","d":"2010-11-16","v":-0.396},{"s":"AT","d":"2010-11-25","v":-0.414},{"s":"AT","d":"2010-12-01","v":-0.534},{"s":"AT","d":"2010-12-05","v":-0.451},{"s":"AT","d":"2010-12-12","v":-0.414},{"s":"AT","d":"2010-12-20","v":-0.378},{"s":"AT","d":"2010-12-29","v":-0.525},{"s":"AT","d":"2011-01-06","v":-0.552},{"s":"AT","d":"2011-01-10","v":-0.598},{"s":"AT","d":"2011-01-15","v":-0.47},{"s":"AT","d":"2011-01-23","v":-0.424},{"s":"AT","d":"2011-02-01","v":-0.414},{"s":"AT","d":"2011-02-09","v":-0.451},{"s":"AT","d":"2011-02-18","v":-0.46},{"s":"AT","d":"2011-02-26","v":-0.47},{"s":"AT","d":"2011-03-07","v":-0.433},{"s":"AT","d":"2011-03-15","v":-0.414},{"s":"AT","d":"2011-03-24","v":-0.428},{"s":"AT","d":"2011-04-01","v":-0.451},{"s":"AT","d":"2011-04-10","v":-0.378},{"s":"AT","d":"2011-04-18","v":-0.424},{"s":"AT","d":"2011-04-27","v":-0.428},{"s":"AT","d":"2011-05-05","v":-0.387},{"s":"AT","d":"2011-05-12","v":-0.401},

    {"s":"FI","d":"2007-01-02","v":-0.037},{"s":"FI","d":"2007-01-11","v":-0.028},{"s":"FI","d":"2007-03-19","v":-0.03},{"s":"FI","d":"2007-05-24","v":-0.028},{"s":"FI","d":"2007-06-18","v":-0.037},{"s":"FI","d":"2007-07-02","v":-0.047},{"s":"FI","d":"2007-07-13","v":-0.07},{"s":"FI","d":"2007-07-31","v":-0.102},{"s":"FI","d":"2007-08-11","v":-0.083},{"s":"FI","d":"2007-08-29","v":-0.083},{"s":"FI","d":"2007-09-10","v":-0.125},{"s":"FI","d":"2007-09-23","v":-0.091},{"s":"FI","d":"2007-10-11","v":-0.065},{"s":"FI","d":"2007-10-22","v":-0.088},{"s":"FI","d":"2007-11-05","v":-0.102},{"s":"FI","d":"2007-11-21","v":-0.143},{"s":"FI","d":"2007-11-30","v":-0.125},{"s":"FI","d":"2007-12-11","v":-0.097},{"s":"FI","d":"2007-12-22","v":-0.106},{"s":"FI","d":"2008-01-02","v":-0.07},{"s":"FI","d":"2008-01-09","v":-0.092},{"s":"FI","d":"2008-01-20","v":-0.088},{"s":"FI","d":"2008-01-31","v":-0.102},{"s":"FI","d":"2008-02-10","v":-0.079},{"s":"FI","d":"2008-02-21","v":-0.092},{"s":"FI","d":"2008-03-01","v":-0.097},{"s":"FI","d":"2008-03-05","v":-0.138},{"s":"FI","d":"2008-03-10","v":-0.194},{"s":"FI","d":"2008-03-17","v":-0.207},{"s":"FI","d":"2008-03-24","v":-0.203},{"s":"FI","d":"2008-04-01","v":-0.152},{"s":"FI","d":"2008-04-08","v":-0.152},{"s":"FI","d":"2008-04-15","v":-0.175},{"s":"FI","d":"2008-04-22","v":-0.166},{"s":"FI","d":"2008-05-07","v":-0.171},{"s":"FI","d":"2008-05-21","v":-0.152},{"s":"FI","d":"2008-06-01","v":-0.157},{"s":"FI","d":"2008-06-12","v":-0.166},{"s":"FI","d":"2008-06-20","v":-0.18},{"s":"FI","d":"2008-07-01","v":-0.17},{"s":"FI","d":"2008-07-10","v":-0.19},{"s":"FI","d":"2008-07-18","v":-0.165},{"s":"FI","d":"2008-07-28","v":-0.19},{"s":"FI","d":"2008-08-06","v":-0.175},{"s":"FI","d":"2008-08-15","v":-0.155},
    {"s":"FI","d":"2008-08-26","v":-0.175},{"s":"FI","d":"2008-09-06","v":-0.212},{"s":"FI","d":"2008-09-13","v":-0.249},{"s":"FI","d":"2008-09-17","v":-0.276},{"s":"FI","d":"2008-09-22","v":-0.24},{"s":"FI","d":"2008-09-27","v":-0.286},{"s":"FI","d":"2008-10-05","v":-0.295},{"s":"FI","d":"2008-10-12","v":-0.29},{"s":"FI","d":"2008-10-17","v":-0.221},{"s":"FI","d":"2008-10-23","v":-0.267},{"s":"FI","d":"2008-10-28","v":-0.304},{"s":"FI","d":"2008-11-01","v":-0.405},{"s":"FI","d":"2008-11-04","v":-0.534},{"s":"FI","d":"2008-11-08","v":-0.552},{"s":"FI","d":"2008-11-13","v":-0.47},{"s":"FI","d":"2008-11-18","v":-0.424},{"s":"FI","d":"2008-11-24","v":-0.488},{"s":"FI","d":"2008-11-29","v":-0.516},{"s":"FI","d":"2008-12-05","v":-0.58},{"s":"FI","d":"2008-12-10","v":-0.672},{"s":"FI","d":"2008-12-14","v":-0.709},{"s":"FI","d":"2008-12-19","v":-0.736},{"s":"FI","d":"2008-12-26","v":-0.718},{"s":"FI","d":"2009-01-02","v":-0.727},{"s":"FI","d":"2009-01-10","v":-0.713},{"s":"FI","d":"2009-01-17","v":-0.755},{"s":"FI","d":"2009-01-20","v":-0.838},{"s":"FI","d":"2009-01-24","v":-0.884},{"s":"FI","d":"2009-01-28","v":-0.865},{"s":"FI","d":"2009-02-02","v":-0.773},{"s":"FI","d":"2009-02-07","v":-0.681},{"s":"FI","d":"2009-02-13","v":-0.718},{"s":"FI","d":"2009-02-16","v":-0.847},{"s":"FI","d":"2009-02-22","v":-0.792},{"s":"FI","d":"2009-03-01","v":-0.782},{"s":"FI","d":"2009-03-08","v":-0.773},{"s":"FI","d":"2009-03-14","v":-0.782},{"s":"FI","d":"2009-03-19","v":-0.727},{"s":"FI","d":"2009-03-26","v":-0.681},{"s":"FI","d":"2009-04-01","v":-0.663},{"s":"FI","d":"2009-04-06","v":-0.635},{"s":"FI","d":"2009-04-13","v":-0.626},{"s":"FI","d":"2009-04-20","v":-0.589},{"s":"FI","d":"2009-04-28","v":-0.552},{"s":"FI","d":"2009-05-05","v":-0.516},{"s":"FI","d":"2009-05-12","v":-0.488},{"s":"FI","d":"2009-05-17","v":-0.479},{"s":"FI","d":"2009-05-21","v":-0.525},{"s":"FI","d":"2009-05-25","v":-0.442},{"s":"FI","d":"2009-05-30","v":-0.424},{"s":"FI","d":"2009-06-06","v":-0.433},{"s":"FI","d":"2009-06-13","v":-0.424},{"s":"FI","d":"2009-06-21","v":-0.442},{"s":"FI","d":"2009-06-28","v":-0.437},{"s":"FI","d":"2009-07-05","v":-0.433},{"s":"FI","d":"2009-07-08","v":-0.442},{"s":"FI","d":"2009-07-14","v":-0.414},{"s":"FI","d":"2009-07-19","v":-0.387},{"s":"FI","d":"2009-07-25","v":-0.322},{"s":"FI","d":"2009-08-01","v":-0.313},{"s":"FI","d":"2009-08-08","v":-0.267},{"s":"FI","d":"2009-08-12","v":-0.249},{"s":"FI","d":"2009-08-17","v":-0.276},{"s":"FI","d":"2009-08-22","v":-0.308},{"s":"FI","d":"2009-08-28","v":-0.29},{"s":"FI","d":"2009-09-04","v":-0.368},{"s":"FI","d":"2009-09-08","v":-0.387},{"s":"FI","d":"2009-09-13","v":-0.359},{"s":"FI","d":"2009-09-18","v":-0.258},{"s":"FI","d":"2009-09-24","v":-0.249},{"s":"FI","d":"2009-09-29","v":-0.267},{"s":"FI","d":"2009-10-03","v":-0.373},{"s":"FI","d":"2009-10-10","v":-0.341},{"s":"FI","d":"2009-10-17","v":-0.345},{"s":"FI","d":"2009-10-24","v":-0.267},{"s":"FI","d":"2009-11-01","v":-0.295},
    {"s":"FI","d":"2009-11-08","v":-0.263},{"s":"FI","d":"2009-11-13","v":-0.203},{"s":"FI","d":"2009-11-21","v":-0.235},{"s":"FI","d":"2009-11-30","v":-0.249},{"s":"FI","d":"2009-12-08","v":-0.253},{"s":"FI","d":"2009-12-15","v":-0.217},{"s":"FI","d":"2009-12-23","v":-0.184},{"s":"FI","d":"2009-12-29","v":-0.175},{"s":"FI","d":"2010-01-05","v":-0.18},{"s":"FI","d":"2010-01-11","v":-0.171},{"s":"FI","d":"2010-01-18","v":-0.203},{"s":"FI","d":"2010-01-24","v":-0.221},{"s":"FI","d":"2010-02-02","v":-0.24},{"s":"FI","d":"2010-02-08","v":-0.198},{"s":"FI","d":"2010-02-14","v":-0.166},{"s":"FI","d":"2010-02-23","v":-0.134},{"s":"FI","d":"2010-03-01","v":-0.129},{"s":"FI","d":"2010-03-10","v":-0.127},{"s":"FI","d":"2010-03-14","v":-0.127},{"s":"FI","d":"2010-03-15","v":-0.249},{"s":"FI","d":"2010-03-23","v":-0.253},{"s":"FI","d":"2010-03-31","v":-0.258},{"s":"FI","d":"2010-04-09","v":-0.258},{"s":"FI","d":"2010-04-17","v":-0.249},{"s":"FI","d":"2010-04-26","v":-0.258},{"s":"FI","d":"2010-05-02","v":-0.212},{"s":"FI","d":"2010-05-11","v":-0.203},{"s":"FI","d":"2010-05-17","v":-0.194},{"s":"FI","d":"2010-05-25","v":-0.207},{"s":"FI","d":"2010-06-01","v":-0.23},{"s":"FI","d":"2010-06-05","v":-0.313},{"s":"FI","d":"2010-06-09","v":-0.368},{"s":"FI","d":"2010-06-14","v":-0.313},{"s":"FI","d":"2010-06-20","v":-0.276},{"s":"FI","d":"2010-06-24","v":-0.212},{"s":"FI","d":"2010-07-01","v":-0.249},{"s":"FI","d":"2010-07-07","v":-0.203},{"s":"FI","d":"2010-07-13","v":-0.184},{"s":"FI","d":"2010-07-22","v":-0.203},{"s":"FI","d":"2010-07-31","v":-0.18},{"s":"FI","d":"2010-08-08","v":-0.194},{"s":"FI","d":"2010-08-15","v":-0.189},{"s":"FI","d":"2010-08-23","v":-0.207},{"s":"FI","d":"2010-09-01","v":-0.198},{"s":"FI","d":"2010-09-09","v":-0.194},{"s":"FI","d":"2010-09-17","v":-0.226},{"s":"FI","d":"2010-09-26","v":-0.244},{"s":"FI","d":"2010-10-04","v":-0.253},{"s":"FI","d":"2010-10-13","v":-0.221},{"s":"FI","d":"2010-10-22","v":-0.212},{"s":"FI","d":"2010-10-30","v":-0.221},{"s":"FI","d":"2010-11-08","v":-0.249},{"s":"FI","d":"2010-11-16","v":-0.244},{"s":"FI","d":"2010-11-25","v":-0.212},{"s":"FI","d":"2010-11-29","v":-0.281},{"s":"FI","d":"2010-12-05","v":-0.212},{"s":"FI","d":"2010-12-12","v":-0.194},{"s":"FI","d":"2010-12-20","v":-0.194},{"s":"FI","d":"2010-12-27","v":-0.166},{"s":"FI","d":"2011-01-02","v":-0.189},{"s":"FI","d":"2011-01-06","v":-0.23},{"s":"FI","d":"2011-01-15","v":-0.184},{"s":"FI","d":"2011-01-23","v":-0.171},{"s":"FI","d":"2011-02-01","v":-0.198},{"s":"FI","d":"2011-02-09","v":-0.194},{"s":"FI","d":"2011-02-18","v":-0.194},{"s":"FI","d":"2011-02-26","v":-0.198},{"s":"FI","d":"2011-03-07","v":-0.203},{"s":"FI","d":"2011-03-15","v":-0.203},{"s":"FI","d":"2011-03-24","v":-0.198},{"s":"FI","d":"2011-04-01","v":-0.207},{"s":"FI","d":"2011-04-08","v":-0.175},{"s":"FI","d":"2011-04-12","v":-0.171},{"s":"FI","d":"2011-04-13","v":-0.263},{"s":"FI","d":"2011-04-18","v":-0.286},{"s":"FI","d":"2011-04-27","v":-0.299},{"s":"FI","d":"2011-05-05","v":-0.286},{"s":"FI","d":"2011-05-12","v":-0.295}
  ]},
  "mark": {"type": "line", "strokeWidth": 2.6},
  "encoding": {
    "x": {
      "field": "d", "type": "temporal",
      "scale": {"type": "utc", "domain": [{"year": 2007, "month": 1, "date": 2, "utc": true}, {"year": 2011, "month": 5, "date": 12, "utc": true}]},
      "axis": {
        "orient": "top", "title": null, "grid": false,
        "values": [
          {"year": 2007, "month": 1, "date": 2, "utc": true}, {"year": 2007, "month": 3, "date": 2, "utc": true}, {"year": 2007, "month": 5, "date": 2, "utc": true}, {"year": 2007, "month": 7, "date": 2, "utc": true}, {"year": 2007, "month": 9, "date": 2, "utc": true}, {"year": 2007, "month": 11, "date": 2, "utc": true},
          {"year": 2008, "month": 1, "date": 2, "utc": true}, {"year": 2008, "month": 3, "date": 2, "utc": true}, {"year": 2008, "month": 5, "date": 2, "utc": true}, {"year": 2008, "month": 7, "date": 2, "utc": true}, {"year": 2008, "month": 9, "date": 2, "utc": true}, {"year": 2008, "month": 11, "date": 2, "utc": true},
          {"year": 2009, "month": 1, "date": 2, "utc": true}, {"year": 2009, "month": 3, "date": 2, "utc": true}, {"year": 2009, "month": 5, "date": 2, "utc": true}, {"year": 2009, "month": 7, "date": 2, "utc": true}, {"year": 2009, "month": 9, "date": 2, "utc": true}, {"year": 2009, "month": 11, "date": 2, "utc": true},
          {"year": 2010, "month": 1, "date": 2, "utc": true}, {"year": 2010, "month": 3, "date": 2, "utc": true}, {"year": 2010, "month": 5, "date": 2, "utc": true}, {"year": 2010, "month": 7, "date": 2, "utc": true}, {"year": 2010, "month": 9, "date": 2, "utc": true}, {"year": 2010, "month": 11, "date": 2, "utc": true},
          {"year": 2011, "month": 1, "date": 2, "utc": true}, {"year": 2011, "month": 3, "date": 2, "utc": true}, {"year": 2011, "month": 5, "date": 2, "utc": true}
        ],
        "format": "%-d-%-m-%Y",
        "labelAngle": -45, "labelAlign": "left", "labelBaseline": "alphabetic",
        "labelPadding": 18, "labelOffset": 4,
        "labelFont": "DejaVu Sans", "labelFontSize": 16, "labelColor": "#1a1a1a",
        "labelOverlap": false, "labelFlush": false,
        "domainColor": "#8c8c8c", "domainWidth": 1.5,
        "tickColor": "#8c8c8c", "tickWidth": 1.5, "tickSize": -5
      }
    },
    "y": {
      "field": "v", "type": "quantitative",
      "scale": {"domain": [-1.6, 0], "nice": false, "zero": false},
      "axis": {
        "title": null,
        "values": [0, -0.2, -0.4, -0.6, -0.8, -1, -1.2, -1.4, -1.6],
        "format": ".1~f",
        "grid": true, "gridColor": "#8c8c8c", "gridWidth": 1.5,
        "domainColor": "#8c8c8c", "domainWidth": 1.5,
        "tickColor": "#8c8c8c", "tickWidth": 1.5, "tickSize": 9,
        "labelPadding": 30,
        "labelFont": "DejaVu Sans", "labelFontSize": 15, "labelFontWeight": "bold", "labelColor": "#1a1a1a"
      }
    },
    "color": {
      "field": "s", "type": "nominal",
      "scale": {"domain": ["NL", "FR", "AT", "FI"], "range": ["#F79646", "#8064A2", "#9BBB59", "#4F81BD"]},
      "legend": {
        "orient": "none", "legendX": 196, "legendY": 502.5, "title": null, "direction": "horizontal",
        "columns": 2, "columnPadding": 309, "rowPadding": -20, "padding": 0,
        "symbolType": "stroke", "symbolSize": 3364, "symbolStrokeWidth": 2.6,
        "labelFont": "DejaVu Sans", "labelFontSize": 18, "labelColor": "#1a1a1a", "labelLimit": 600, "labelOffset": 6,
        "labelExpr": "{'NL': 'spread Duitsland-Nederland\u00a0 10-jrs', 'FR': 'spread Duitsland-Frankrijk\u00a0 10-jrs', 'AT': 'spread Duitsland-Oostenrijk\u00a0 10-jrs', 'FI': 'spread Duitsland-Finland\u00a0 10-jrs'}[datum.value]"
      }
    },
    "strokeDash": {
      "field": "s", "type": "nominal",
      "scale": {"domain": ["NL", "FR", "AT", "FI"], "range": [[1, 0], [10, 6], [2, 3], [6, 3.5]]},
      "legend": {
        "orient": "none", "legendX": 196, "legendY": 502.5, "title": null, "direction": "horizontal",
        "columns": 2, "columnPadding": 309, "rowPadding": -20, "padding": 0,
        "symbolType": "stroke", "symbolSize": 3364, "symbolStrokeWidth": 2.6,
        "labelFont": "DejaVu Sans", "labelFontSize": 18, "labelColor": "#1a1a1a", "labelLimit": 600, "labelOffset": 6,
        "labelExpr": "{'NL': 'spread Duitsland-Nederland\u00a0 10-jrs', 'FR': 'spread Duitsland-Frankrijk\u00a0 10-jrs', 'AT': 'spread Duitsland-Oostenrijk\u00a0 10-jrs', 'FI': 'spread Duitsland-Finland\u00a0 10-jrs'}[datum.value]"
      }
    }
  }
}
